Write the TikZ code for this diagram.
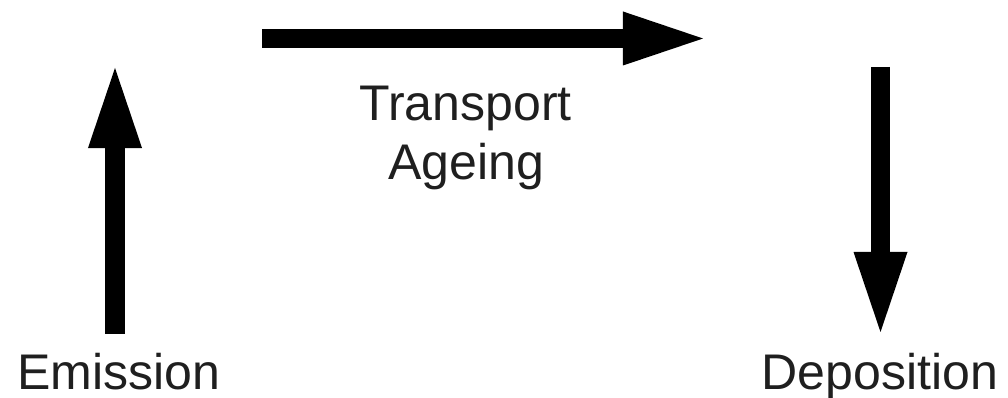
\documentclass[tikz,border=0pt]{standalone}
\usepackage{fontspec}
\setmainfont{Liberation Sans}
\usetikzlibrary{arrows.meta}
\begin{document}
\begin{tikzpicture}[x=0.025cm, y=0.025cm,
		bigarrow/.style={line width=0.475cm, -{Triangle[length=2cm, width=1.35cm, line width=0pt]}},
		proc/.style={font=\fontsize{35.6}{42}\selectfont, text=black!88, inner sep=0pt, anchor=base}]
	\useasboundingbox (0,0) rectangle (1008,398);
	
	% Beschriftungen
	\node[proc] (emis) at (119,8.7) {Emission};
	\node[proc] (depo) at (880,8.3) {Deposition};
	\node[proc] (trans) at (465.5,277) {Transport};
	\node[proc] (age) at (466,218) {Ageing};
	
	% Endpunkte der Pfeile
	\coordinate (emisA) at (115,64);
	\coordinate (emisB) at (115,330);
	\coordinate (transA) at (262,359.5);
	\coordinate (transB) at (703,359.5);
	\coordinate (depoA) at (880.5,331);
	\coordinate (depoB) at (880.5,66);
	
	% Pfeile
	\draw[bigarrow] (emisA) -- (emisB);
	\draw[bigarrow] (transA) -- (transB);
	\draw[bigarrow] (depoA) -- (depoB);
\end{tikzpicture}
\end{document}
